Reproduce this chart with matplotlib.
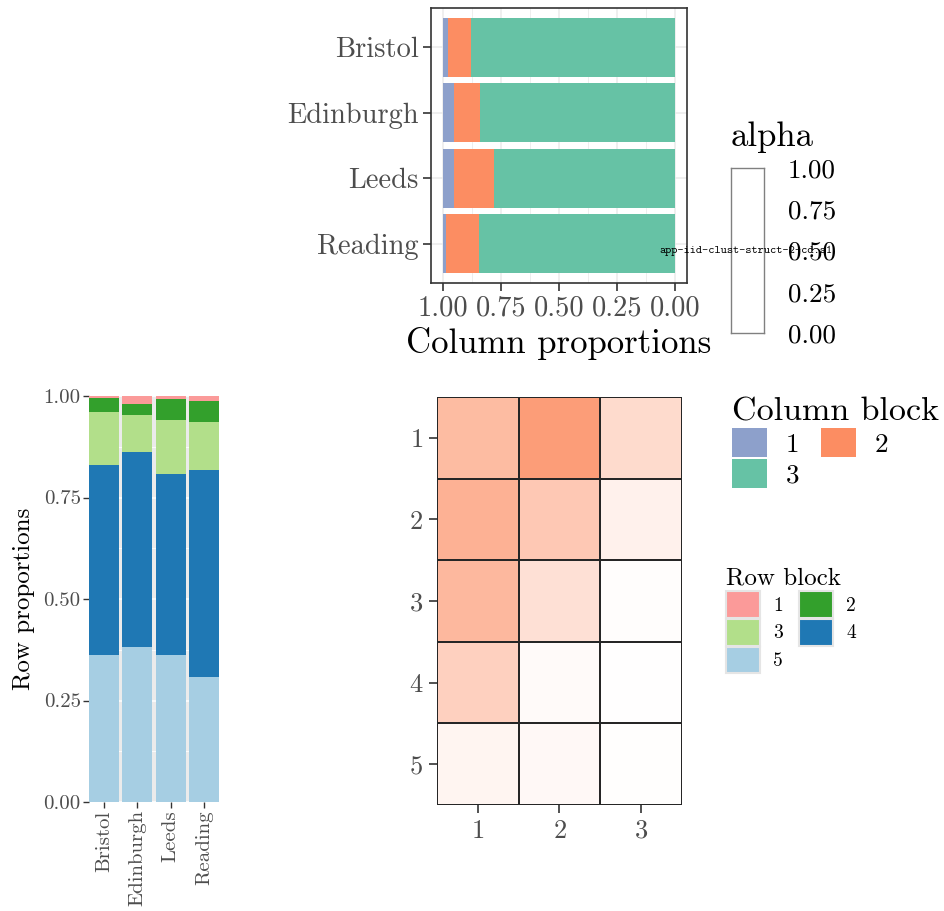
import numpy as np
import matplotlib
matplotlib.use("Agg")
import matplotlib.pyplot as plt
from matplotlib.patches import Patch

plt.rcParams['font.family'] = ['cmr10', 'DejaVu Serif']
plt.rcParams['mathtext.fontset'] = 'cm'
plt.rcParams['axes.formatter.use_mathtext'] = True
plt.rcParams['axes.unicode_minus'] = False

# data
cities = ["Bristol", "Edinburgh", "Leeds", "Reading"]

# column proportions (column blocks 1..3)
col_block1 = [0.024, 0.047, 0.047, 0.016]
col_block2 = [0.100, 0.114, 0.174, 0.142]
col_block3 = [0.876, 0.839, 0.779, 0.842]

# row proportions (row blocks 1..5)
row_block1 = [0.005, 0.020, 0.007, 0.012]
row_block2 = [0.035, 0.027, 0.051, 0.051]
row_block3 = [0.130, 0.092, 0.132, 0.120]
row_block4 = [0.468, 0.479, 0.447, 0.508]
row_block5 = [0.362, 0.382, 0.362, 0.309]

# alpha of each (row block, column block) cell
cell_alpha = [
    [0.59, 0.86, 0.32],
    [0.68, 0.48, 0.12],
    [0.62, 0.27, 0.02],
    [0.41, 0.04, 0.005],
    [0.09, 0.06, 0.01],
]

prop_ticks = [0, 0.25, 0.5, 0.75, 1.0]
prop_labels = ["0.00", "0.25", "0.50", "0.75", "1.00"]

set2 = {1: "#8DA0CB", 2: "#FC8D62", 3: "#66C2A5"}
paired = {1: "#FB9A99", 2: "#33A02C", 3: "#B2DF8A", 4: "#1F78B4", 5: "#A6CEE3"}
heat_base = np.array([252, 141, 98]) / 255.0

W, H = 945, 911
fig = plt.figure(figsize=(W / 100, H / 100), dpi=100)


def px_axes(left, top, right, bottom):
    return fig.add_axes([left / W, 1 - bottom / H, (right - left) / W, (bottom - top) / H])


tick_grey = "#4D4D4D"
dark = "#333333"

# ---- top panel: column proportions ----
ax1 = px_axes(431, 8, 687, 283)
ypos = np.arange(len(cities))
g = np.array(col_block3)
o = np.array(col_block2)
b = np.array(col_block1)
ax1.barh(ypos, g, height=0.9, color=set2[3], zorder=2)
ax1.barh(ypos, o, left=g, height=0.9, color=set2[2], zorder=2)
ax1.barh(ypos, b, left=g + o, height=0.9, color=set2[1], zorder=2)
ax1.set_xlim(1.05, -0.05)
ax1.set_ylim(3.6, -0.6)
ax1.set_xticks(prop_ticks)
ax1.set_xticklabels(prop_labels)
ax1.set_xticks(np.arange(0.125, 1.0, 0.25), minor=True)
ax1.set_yticks(ypos)
ax1.set_yticklabels(cities)
ax1.grid(True, which='major', color='#EBEBEB', lw=1.1, zorder=0)
ax1.grid(True, which='minor', axis='x', color='#EBEBEB', lw=0.6, zorder=0)
ax1.tick_params(which='minor', length=0)
ax1.tick_params(which='major', length=6, width=1.2, color=dark, labelsize=20.5,
                labelcolor=tick_grey, pad=3)
for s in ax1.spines.values():
    s.set_color(dark)
    s.set_linewidth(1.2)
ax1.set_xlabel("Column proportions", fontsize=25, labelpad=4)

# alpha legend
axa = px_axes(731, 168, 764, 333)
axa.set_xlim(0, 1)
axa.set_ylim(0, 1)
axa.set_xticks([])
axa.yaxis.tick_right()
axa.set_yticks(prop_ticks)
axa.set_yticklabels(prop_labels)
axa.tick_params(axis='y', length=0, labelsize=19.5, pad=17)
for s in axa.spines.values():
    s.set_color('#808080')
    s.set_linewidth(1.0)
for t in prop_ticks[1:-1]:
    axa.plot([0, 0.15], [t, t], color='white', lw=1.5)
    axa.plot([0.85, 1], [t, t], color='white', lw=1.5)
fig.text(731 / W, 1 - 137 / H, "alpha", fontsize=25, va='center', ha='left')
fig.text(746 / W, 1 - 251 / H, "app-iid-clust-struct-2-cd.s1", fontsize=8.5,
         family='cmtt10', ha='center', va='center')

# ---- bottom left: row proportions ----
ax2 = px_axes(89, 396, 219, 802)
ax2.set_facecolor('#EBEBEB')
xpos = np.arange(1, len(cities) + 1)
bottom = np.zeros(len(cities))
for k, vals in [(5, row_block5), (4, row_block4), (3, row_block3), (2, row_block2), (1, row_block1)]:
    ax2.bar(xpos, vals, bottom=bottom, width=0.9, color=paired[k], zorder=2)
    bottom = bottom + np.array(vals)
ax2.set_xlim(0.55, len(cities) + 0.45)
ax2.set_ylim(0, 1)
ax2.set_yticks(prop_ticks)
ax2.set_yticklabels(prop_labels)
ax2.set_yticks(np.arange(0.125, 1.0, 0.25), minor=True)
ax2.set_xticks(xpos)
ax2.set_xticklabels(cities, rotation=90)
ax2.grid(True, which='major', color='white', lw=1.1, zorder=0)
ax2.grid(True, which='minor', axis='y', color='white', lw=0.6, zorder=0)
ax2.tick_params(which='minor', length=0)
ax2.tick_params(which='major', length=4, width=1.0, color=dark, labelsize=15,
                labelcolor=tick_grey, pad=2)
for s in ax2.spines.values():
    s.set_visible(False)
ax2.set_ylabel("Row proportions", fontsize=18, labelpad=6)

# ---- heatmap ----
ax3 = px_axes(437, 397, 682, 805)
alpha = np.array(cell_alpha)
rgba = np.ones(alpha.shape + (4,))
rgba[..., :3] = 1 - alpha[..., None] * (1 - heat_base)
xe = np.arange(0.5, alpha.shape[1] + 1)
ye = np.arange(0.5, alpha.shape[0] + 1)
ax3.pcolormesh(xe, ye, rgba, edgecolors='#262626', linewidth=1.2)
ax3.set_xlim(0.5, alpha.shape[1] + 0.5)
ax3.set_ylim(alpha.shape[0] + 0.5, 0.5)
ax3.set_xticks(np.arange(1, alpha.shape[1] + 1))
ax3.set_yticks(np.arange(1, alpha.shape[0] + 1))
ax3.tick_params(length=6, width=1.2, color=dark, labelsize=19, labelcolor=tick_grey, pad=4)
for s in ax3.spines.values():
    s.set_visible(False)

# legends
col_handles = [Patch(facecolor=set2[k], edgecolor='none', label=str(k)) for k in (1, 3, 2)]
leg1 = fig.legend(handles=col_handles, title="Column block", ncol=2, frameon=False,
                  loc='upper left', bbox_to_anchor=(718 / W, 1 - 384 / H),
                  fontsize=19.5, title_fontsize=24.5, handlelength=1.3, handleheight=1.3,
                  handletextpad=0.7, columnspacing=0.8, labelspacing=0.05,
                  borderpad=0, alignment='left')

row_handles = [Patch(facecolor=paired[k], edgecolor='#E5E5E5', linewidth=1.5, label=str(k))
               for k in (1, 3, 5, 2, 4)]
leg2 = fig.legend(handles=row_handles, title="Row block", ncol=2, frameon=False,
                  loc='upper left', bbox_to_anchor=(716 / W, 1 - 558 / H),
                  fontsize=14, title_fontsize=18, handlelength=1.75, handleheight=1.75,
                  handletextpad=0.7, columnspacing=0.8, labelspacing=0.05,
                  borderpad=0, alignment='left')

fig.savefig("out.png", dpi=100)
